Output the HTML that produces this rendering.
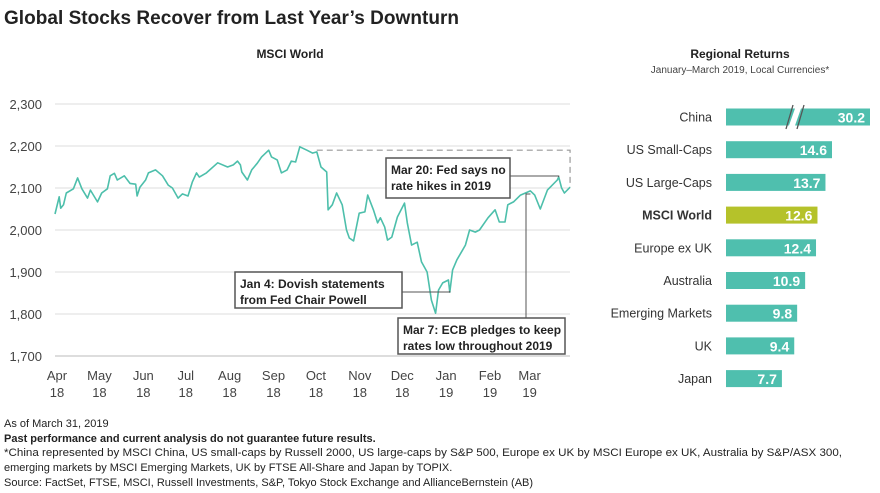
<!DOCTYPE html>
<html><head><meta charset="utf-8"><style>
body{margin:0;background:#fff}
svg{display:block;font-family:"Liberation Sans",sans-serif}
</style></head><body>
<svg id="chart" width="880" height="493" viewBox="0 0 880 493">
<text x="4" y="24" font-size="19" font-weight="bold" fill="#222" textLength="455">Global Stocks Recover from Last Year’s Downturn</text>
<text x="290" y="58" font-size="12" font-weight="bold" fill="#222" text-anchor="middle">MSCI World</text>
<g id="grid"></g>
<g id="line"></g>
<g id="annot"></g>
<text x="740" y="58" font-size="12" font-weight="bold" fill="#222" text-anchor="middle">Regional Returns</text>
<text x="740" y="73" font-size="10" fill="#444" text-anchor="middle">January–March 2019, Local Currencies*</text>
<g id="bars"></g>
<g font-size="11" fill="#222">
<text x="4" y="427">As of March 31, 2019</text>
<text x="4" y="442" font-weight="bold">Past performance and current analysis do not guarantee future results.</text>
<text x="4" y="456" textLength="838" lengthAdjust="spacingAndGlyphs">*China represented by MSCI China, US small-caps by Russell 2000, US large-caps by S&amp;P 500, Europe ex UK by MSCI Europe ex UK, Australia by S&amp;P/ASX 300,</text>
<text x="4" y="471">emerging markets by MSCI Emerging Markets, UK by FTSE All-Share and Japan by TOPIX.</text>
<text x="4" y="486">Source: FactSet, FTSE, MSCI, Russell Investments, S&amp;P, Tokyo Stock Exchange and AllianceBernstein (AB)</text>
</g>
</svg>
<script>
const days=[0,3,4,6,8,13,16,19,23,25,30,33,37,39,42,44,49,53,57,58,60,64,66,71,76,80,83,87,90,94,97,100,102,107,115,122,126,129,131,132,136,139,143,146,151,153,157,160,164,167,170,173,178,182,185,188,192,193,196,199,203,206,208,211,215,219,221,225,228,230,233,235,238,242,247,249,252,256,259,263,266,269,271,274,278,279,281,284,288,290,293,297,300,306,311,314,318,320,324,329,336,339,343,348,355,356,358,360,364];
const values=[2038,2079,2052,2060,2088,2098,2124,2098,2076,2095,2067,2088,2098,2129,2135,2119,2129,2111,2109,2081,2102,2119,2136,2143,2129,2107,2100,2076,2086,2081,2114,2136,2126,2136,2160,2150,2155,2164,2155,2138,2119,2143,2159,2174,2190,2174,2167,2136,2143,2164,2162,2198,2190,2183,2186,2150,2138,2048,2060,2088,2060,2000,1981,1974,2040,2043,2083,2048,2017,2029,2007,1976,1983,2031,2064,2017,1964,1971,1924,1900,1833,1802,1857,1874,1881,1852,1905,1929,1952,1964,2000,1995,2000,2029,2048,2019,2019,2060,2067,2083,2093,2083,2050,2095,2119,2126,2100,2088,2102];
const yTicks=[1700,1800,1900,2000,2100,2200,2300];
const months=["Apr","May","Jun","Jul","Aug","Sep","Oct","Nov","Dec","Jan","Feb","Mar"];
const years=["18","18","18","18","18","18","18","18","18","19","19","19"];
const monthStartDays=[0,30,61,91,122,153,183,214,244,275,306,334];
const regions=["China","US Small-Caps","US Large-Caps","MSCI World","Europe ex UK","Australia","Emerging Markets","UK","Japan"];
const returns=[30.2,14.6,13.7,12.6,12.4,10.9,9.8,9.4,7.7];
const NS="http://www.w3.org/2000/svg";
function mk(tag,attrs,parent,text){const e=document.createElementNS(NS,tag);for(const k in attrs)e.setAttribute(k,attrs[k]);if(text!==undefined)e.textContent=text;parent.appendChild(e);return e;}
const X=d=>55+d*1.415;
const Y=v=>356-(v-1700)*0.42;
const grid=document.getElementById('grid');
yTicks.forEach(t=>{
 const l=mk('line',{x1:55,x2:570,y1:Y(t),y2:Y(t),stroke:t===1700?'#bbb':'#ddd','stroke-width':1},grid);
 
 
 const tx=mk('text',{x:42,y:Y(t)+5,'font-size':13,fill:'#444','text-anchor':'end'},grid,t.toLocaleString('en-US'));
 
 
});
months.forEach((m,i)=>{
 const x=X(monthStartDays[i])+2;
 const a=mk('text',{x:x,y:380,'font-size':13,fill:'#444','text-anchor':'middle'},grid,m);
 
 
 const b=mk('text',{x:x,y:397,'font-size':13,fill:'#444','text-anchor':'middle'},grid,years[i]);
 
 
});
const lg=document.getElementById('line');
const pts=days.map((d,i)=>X(d).toFixed(1)+','+Y(values[i]).toFixed(1)).join(' ');
const pl=mk('polyline',{points:pts,fill:'none',stroke:'#4dbfab','stroke-width':1.6,'stroke-linejoin':'round'},lg);


const an=document.getElementById('annot');
const peakV=2190, endD=days[days.length-1], endV=values[values.length-1];
const dsh=mk('polyline',{points:`${X(185)},${Y(peakV)} ${X(endD)},${Y(peakV)} ${X(endD)},${Y(endV)}`,fill:'none',stroke:'#999','stroke-width':1.2,'stroke-dasharray':'6,4'},an);


function box(name,x,y,w,h,l1,l2,leader){
 const lead=mk('polyline',{points:leader,fill:'none',stroke:'#555','stroke-width':1},an);
 
 
 const r=mk('rect',{x:x,y:y,width:w,height:h,fill:'#fff',stroke:'#555','stroke-width':1.5},an);
 
 
 const t1=mk('text',{x:x+5,y:y+16,'font-size':12,'font-weight':'bold',fill:'#222'},an,l1);
 
 
 const t2=mk('text',{x:x+5,y:y+32,'font-size':12,'font-weight':'bold',fill:'#222'},an,l2);
 
 
}
box('mar20-annotation',386,158,124,40,'Mar 20: Fed says no','rate hikes in 2019',`510,176 ${X(356)},176 ${X(356)},${Y(2126)}`);
box('jan4-annotation',235,272,167,36,'Jan 4: Dovish statements','from Fed Chair Powell',`402,292 ${X(279)},292 ${X(279)},${Y(1855)}`);
box('mar7-annotation',398,318,167,36,'Mar 7: ECB pledges to keep','rates low throughout 2019',`526,318 526,194 ${X(336)},194`);
const bg=document.getElementById('bars');
const b0=726, ppu=7.26;
regions.forEach((r,i)=>{
 const cy=117+i*32.7;
 const isW=r==='MSCI World';
 const w=i===0?144:returns[i]*ppu;
 const lb=mk('text',{x:712,y:cy+4.5,'font-size':12.5,fill:'#333','text-anchor':'end','font-weight':isW?'bold':'normal'},bg,r);
 
 
 const rc=mk('rect',{x:b0,y:cy-8.5,width:w,height:17,fill:isW?'#b5c22a':'#4fbfae'},bg);
 
 
 const v=mk('text',{x:b0+w-5,y:cy+5.5,'font-size':14,'font-weight':'bold',fill:'#fff','text-anchor':'end'},bg,returns[i].toFixed(1));
 
 
 if(i===0){
  const gp=mk('polygon',{points:`${b0+69},${cy-8.5} ${b0+75},${cy-8.5} ${b0+69},${cy+8.5} ${b0+63},${cy+8.5}`,fill:'#fff'},bg);
  
  
  const s1=mk('line',{x1:b0+67,y1:cy-12,x2:b0+60,y2:cy+12,stroke:'#555','stroke-width':1.3},bg);
  
  
  const s2=mk('line',{x1:b0+78,y1:cy-12,x2:b0+71,y2:cy+12,stroke:'#555','stroke-width':1.3},bg);
  
  
 }
});
</script>
</body></html>
